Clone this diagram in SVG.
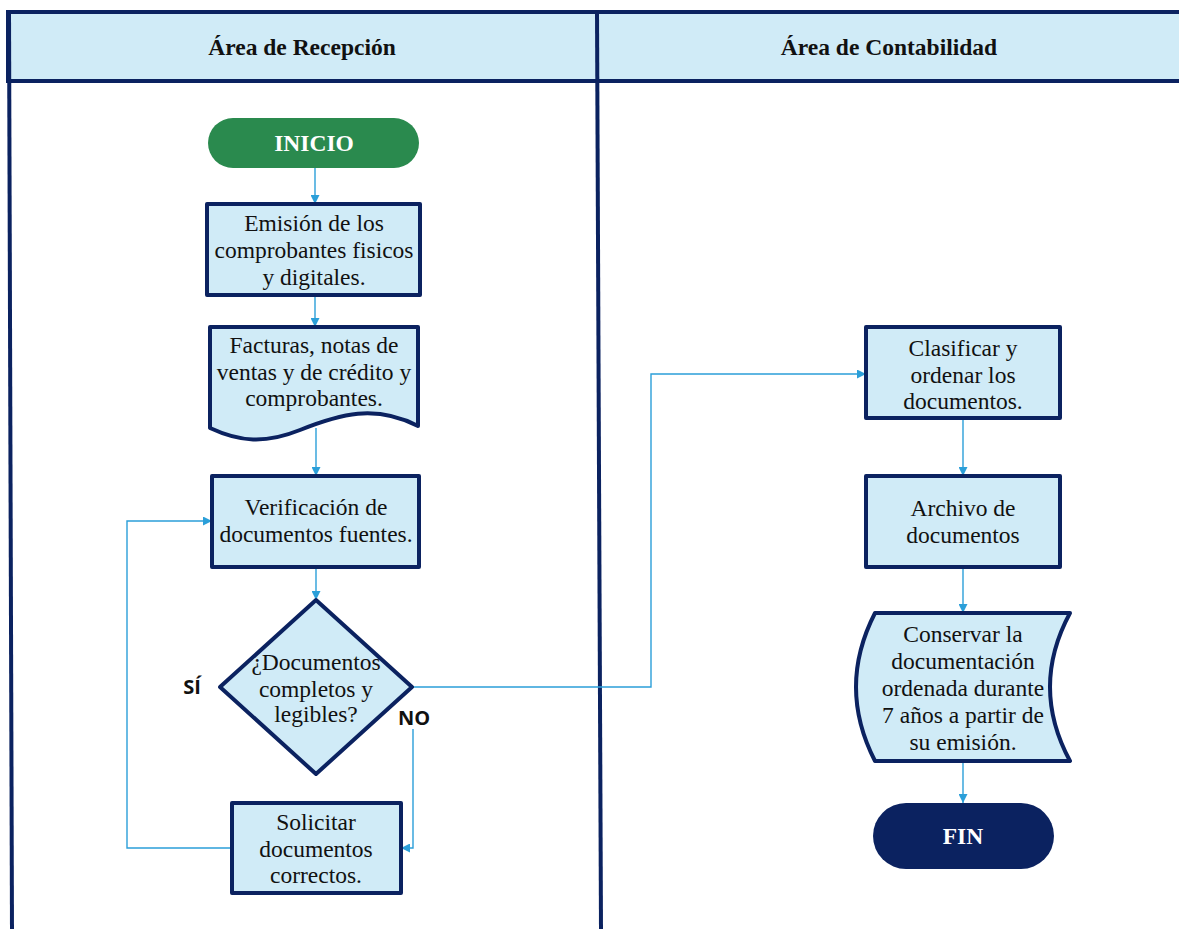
<svg xmlns="http://www.w3.org/2000/svg" width="1179" height="929" viewBox="0 0 1179 929">
<style>
.lane{fill:none;stroke:#0B2260;stroke-width:4}
.hdr{fill:#D0EBF7;stroke:#0B2260;stroke-width:4}
.hdrt{font-family:"Liberation Serif",serif;font-weight:bold;font-size:23.5px;fill:#111;text-anchor:middle}
.box{fill:#D0EBF7;stroke:#0B2260;stroke-width:4;stroke-linejoin:round}
.t{font-family:"Liberation Serif",serif;font-size:23.5px;fill:#111;text-anchor:middle}
.tw{font-family:"Liberation Serif",serif;font-weight:bold;font-size:23.5px;fill:#fff;text-anchor:middle}
.lbl{font-family:"Open Sans",sans-serif;font-weight:bold;font-size:20px;fill:#111;text-anchor:middle}
.c{fill:none;stroke:#2B9FD9;stroke-width:1.4}
</style>
<defs>
<marker id="ah" viewBox="0 0 10 10" refX="10" refY="5" markerWidth="9" markerHeight="9" markerUnits="userSpaceOnUse" orient="auto">
<path d="M0,0 L10,5 L0,10 z" fill="#2B9FD9"/>
</marker>
</defs>
<rect width="1179" height="929" fill="#fff"/>
<g id="lanes">
<rect class="hdr" x="8" y="12" width="1175" height="69"/>
<line class="lane" x1="9" y1="12" x2="12" y2="929"/>
<line class="lane" x1="597" y1="12" x2="601" y2="929"/>
<text class="hdrt" x="302" y="55">Área de Recepción</text>
<text class="hdrt" x="889" y="55">Área de Contabilidad</text>
</g>
<g id="connectors">
<line class="c" x1="315" y1="168" x2="315" y2="204" marker-end="url(#ah)"/>
<line class="c" x1="315" y1="295" x2="315" y2="327" marker-end="url(#ah)"/>
<line class="c" x1="316" y1="428" x2="316" y2="476" marker-end="url(#ah)"/>
<line class="c" x1="316" y1="567" x2="316" y2="600" marker-end="url(#ah)"/>
<polyline class="c" points="412,687 651,687 651,374 866,374" marker-end="url(#ah)"/>
<polyline class="c" points="413,729 413,848 401,848" marker-end="url(#ah)"/>
<polyline class="c" points="232,848 127,848 127,521 212,521" marker-end="url(#ah)"/>
<line class="c" x1="963" y1="418" x2="963" y2="476" marker-end="url(#ah)"/>
<line class="c" x1="963" y1="567" x2="963" y2="613" marker-end="url(#ah)"/>
<line class="c" x1="963" y1="761" x2="963" y2="803" marker-end="url(#ah)"/>
</g>
<g id="inicio">
<rect x="208" y="118" width="211" height="50" rx="25" fill="#2A8A4E"/>
<text class="tw" x="314" y="151">INICIO</text>
</g>
<g id="emision">
<rect class="box" x="207" y="204" width="213" height="91"/>
<text class="t" x="314" y="231">Emisión de los</text>
<text class="t" x="314" y="258">comprobantes fisicos</text>
<text class="t" x="314" y="285">y digitales.</text>
</g>
<g id="facturas">
<path class="box" d="M210,327 H418 V426 C375,404 340,414 300,430 C265,444 240,442 210,428 Z"/>
<text class="t" x="314" y="353">Facturas, notas de</text>
<text class="t" x="314" y="380">ventas y de crédito y</text>
<text class="t" x="314" y="406">comprobantes.</text>
</g>
<g id="verificacion">
<rect class="box" x="212" y="476" width="207" height="91"/>
<text class="t" x="316" y="515">Verificación de</text>
<text class="t" x="316" y="542">documentos fuentes.</text>
</g>
<g id="decision">
<polygon class="box" points="316,600 412,687 316,774 220,687"/>
<text class="t" x="316" y="670">¿Documentos</text>
<text class="t" x="316" y="697">completos y</text>
<text class="t" x="316" y="722">legibles?</text>
</g>
<g id="labels">
<text class="lbl" x="192" y="694">SÍ</text>
<text class="lbl" x="414" y="725">NO</text>
</g>
<g id="solicitar">
<rect class="box" x="232" y="803" width="169" height="90"/>
<text class="t" x="316" y="830">Solicitar</text>
<text class="t" x="316" y="857">documentos</text>
<text class="t" x="316" y="883">correctos.</text>
</g>
<g id="clasificar">
<rect class="box" x="866" y="327" width="194" height="91"/>
<text class="t" x="963" y="356">Clasificar y</text>
<text class="t" x="963" y="383">ordenar los</text>
<text class="t" x="963" y="409">documentos.</text>
</g>
<g id="archivo">
<rect class="box" x="866" y="476" width="194" height="91"/>
<text class="t" x="963" y="516">Archivo de</text>
<text class="t" x="963" y="543">documentos</text>
</g>
<g id="conservar">
<path class="box" d="M875,613 H1070 Q1030,687 1070,761 H875 Q837,687 875,613 Z"/>
<text class="t" x="963" y="642">Conservar la</text>
<text class="t" x="963" y="669">documentación</text>
<text class="t" x="963" y="696">ordenada durante</text>
<text class="t" x="963" y="723">7 años a partir de</text>
<text class="t" x="963" y="750">su emisión.</text>
</g>
<g id="fin">
<rect x="873" y="803" width="181" height="66" rx="33" fill="#0B2260"/>
<text class="tw" x="963" y="844">FIN</text>
</g>
</svg>
